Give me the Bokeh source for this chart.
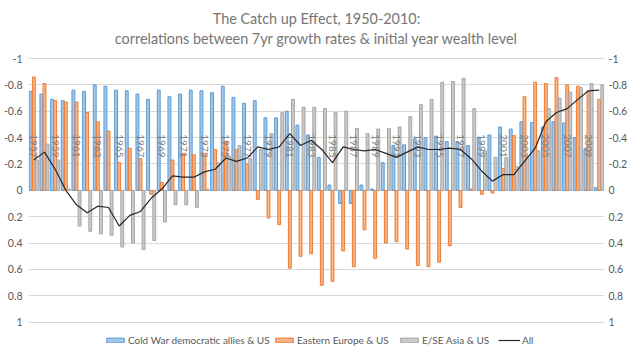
import math
from bokeh.plotting import figure
from bokeh.models import Range1d, FixedTicker, LinearAxis, Legend, LegendItem
from bokeh.core.properties import value
from bokeh.embed import file_html
from bokeh.resources import INLINE

years = list(range(1957, 2011))

cold_war = [-0.75, -0.73, -0.69, -0.68, -0.76, -0.75, -0.80, -0.79, -0.76, -0.755,
            -0.73, -0.69, -0.76, -0.71, -0.73, -0.76, -0.755, -0.74, -0.79, -0.705,
            -0.66, -0.68, -0.55, -0.55, -0.60, -0.495, -0.42, -0.25, -0.04, 0.10,
            0.10, -0.04, -0.01, -0.21, -0.34, -0.345, -0.39, -0.40, -0.41, -0.37,
            -0.37, -0.34, -0.40, -0.42, -0.48, -0.465, -0.52, -0.515, -0.48, -0.52,
            -0.51, -0.40, -0.315, -0.02]

eastern = [-0.86, -0.81, -0.68, -0.67, -0.67, -0.59, -0.52, -0.45, -0.21, -0.32,
           -0.24, 0.03, -0.06, -0.23, -0.28, -0.27, -0.28, -0.31, -0.37, -0.31,
           -0.20, 0.07, 0.21, 0.26, 0.59, 0.50, 0.48, 0.72, 0.69, 0.46,
           0.58, 0.30, 0.515, 0.40, 0.39, 0.445, 0.57, 0.58, 0.545, 0.42,
           0.13, -0.01, 0.03, 0.02, -0.165, -0.415, -0.71, -0.82, -0.81, -0.855,
           -0.80, -0.79, -0.755, -0.69]

asia = [-0.23, -0.35, -0.23, -0.01, 0.27, 0.31, 0.33, 0.34, 0.43, 0.40,
        0.45, 0.38, 0.24, 0.11, 0.11, 0.13, -0.01, -0.21, -0.26, -0.34,
        -0.24, -0.31, -0.43, -0.59, -0.69, -0.63, -0.63, -0.62, -0.59, -0.60,
        -0.47, -0.43, -0.465, -0.47, -0.48, -0.56, -0.65, -0.69, -0.82, -0.825,
        -0.85, -0.62, -0.30, -0.25, -0.25, -0.18, -0.25, -0.30, -0.62, -0.70,
        -0.745, -0.78, -0.81, -0.80]

all_series = [-0.23, -0.29, -0.16, 0.0, 0.11, 0.17, 0.12, 0.13, 0.27, 0.19,
              0.16, 0.06, -0.01, -0.11, -0.10, -0.10, -0.14, -0.16, -0.245, -0.22,
              -0.245, -0.33, -0.31, -0.33, -0.43, -0.34, -0.38, -0.31, -0.21, -0.33,
              -0.31, -0.30, -0.31, -0.28, -0.25, -0.29, -0.33, -0.31, -0.31, -0.32,
              -0.31, -0.24, -0.145, -0.07, -0.12, -0.12, -0.22, -0.32, -0.52, -0.59,
              -0.62, -0.69, -0.755, -0.76]

tick_values = [-1, -0.8, -0.6, -0.4, -0.2, 0, 0.2, 0.4, 0.6, 0.8, 1]
tick_labels = ["-1", "-0.8", "-0.6", "-0.4", "-0.2", "0", "0.2", "0.4", "0.6", "0.8", "1"]

series_names = ["Cold War democratic allies & US", "Eastern Europe & US", "E/SE Asia & US", "All"]
title_lines = ["The Catch up Effect, 1950-2010:",
               "correlations between 7yr growth rates & initial year wealth level"]

idx = list(range(len(years)))
label_idx = [i for i in idx if i % 2 == 0]
label_text = [str(years[i]) for i in label_idx]

FONT = "Lato"

# layout constants (pixels)
FIG_H = 351
PX_PER_UNIT = 131.85
TOP_PAD = 58.0                                   # figure top to value -1
BOTTOM_PAD = FIG_H - TOP_PAD - 2 * PX_PER_UNIT   # value 1 to figure bottom
y_top = -1 - TOP_PAD / PX_PER_UNIT
y_bottom = 1 + BOTTOM_PAD / PX_PER_UNIT

p = figure(frame_width=576, frame_height=FIG_H, output_backend="svg", toolbar_location=None,
           x_range=Range1d(-0.5, len(years) - 0.5), y_range=Range1d(y_bottom, y_top),
           x_axis_location=None, min_border_left=24, min_border_right=24,
           min_border_top=0, min_border_bottom=0)
p.outline_line_color = None
p.background_fill_color = "white"
p.border_fill_color = "white"

ticker = FixedTicker(ticks=tick_values)
overrides = {v: t for v, t in zip(tick_values, tick_labels)}

def style_axis(ax, standoff):
    ax.ticker = ticker
    ax.major_label_overrides = overrides
    ax.axis_line_color = None
    ax.major_tick_line_color = None
    ax.minor_tick_line_color = None
    ax.major_tick_out = 0
    ax.major_tick_in = 0
    ax.major_label_text_font = FONT
    ax.major_label_text_font_size = "10.5px"
    ax.major_label_text_color = "#595959"
    ax.major_label_standoff = standoff

style_axis(p.yaxis[0], 6)
right_axis = LinearAxis()
style_axis(right_axis, 4)
p.add_layout(right_axis, "right")

p.ygrid.ticker = ticker
p.ygrid.grid_line_color = "#d9d9d9"
p.ygrid.grid_line_width = 1
p.xgrid.visible = False

bw = 0.27
off = 0.29
rb = p.vbar(x=[i - off for i in idx], top=cold_war, bottom=0, width=bw,
            fill_color="#a5c5ea", line_color="#5b9bd5", line_width=1)
ro = p.vbar(x=idx, top=eastern, bottom=0, width=bw,
            fill_color="#f6b38a", line_color="#ed7d31", line_width=1)
rg = p.vbar(x=[i + off for i in idx], top=asia, bottom=0, width=bw,
            fill_color="#c9c9c9", line_color="#a5a5a5", line_width=1)

p.text(x=label_idx, y=[-0.425] * len(label_idx), text=label_text, angle=-math.pi / 2,
       text_align="left", text_baseline="middle", text_font=value(FONT),
       text_font_size="10px", text_color="#7f7f7f")

rl = p.line(x=idx, y=all_series, line_color="#262626", line_width=1.2)

# title (two centred lines above the plot area)
x_mid = (len(years) - 1) / 2
p.text(x=[x_mid, x_mid], y=[-1 - 40 / PX_PER_UNIT, -1 - 20 / PX_PER_UNIT], text=title_lines,
       text_align="center", text_baseline="middle", text_font=value(FONT),
       text_font_size="14.4px", text_color="#767676")

legend_pos = [76, 245, 370, 470]
for name, r, xpos in zip(series_names, [rb, ro, rg, rl], legend_pos):
    lg = Legend(items=[LegendItem(label=name, renderers=[r])], location=(xpos, 5),
                orientation="horizontal", glyph_width=22, glyph_height=6,
                label_standoff=2, padding=0, margin=0, spacing=0,
                border_line_color=None, background_fill_alpha=0,
                label_text_font=FONT, label_text_font_size="10px",
                label_text_color="#595959", label_height=12)
    p.add_layout(lg, "center")

open("out.html", "w").write(file_html(p, INLINE))
